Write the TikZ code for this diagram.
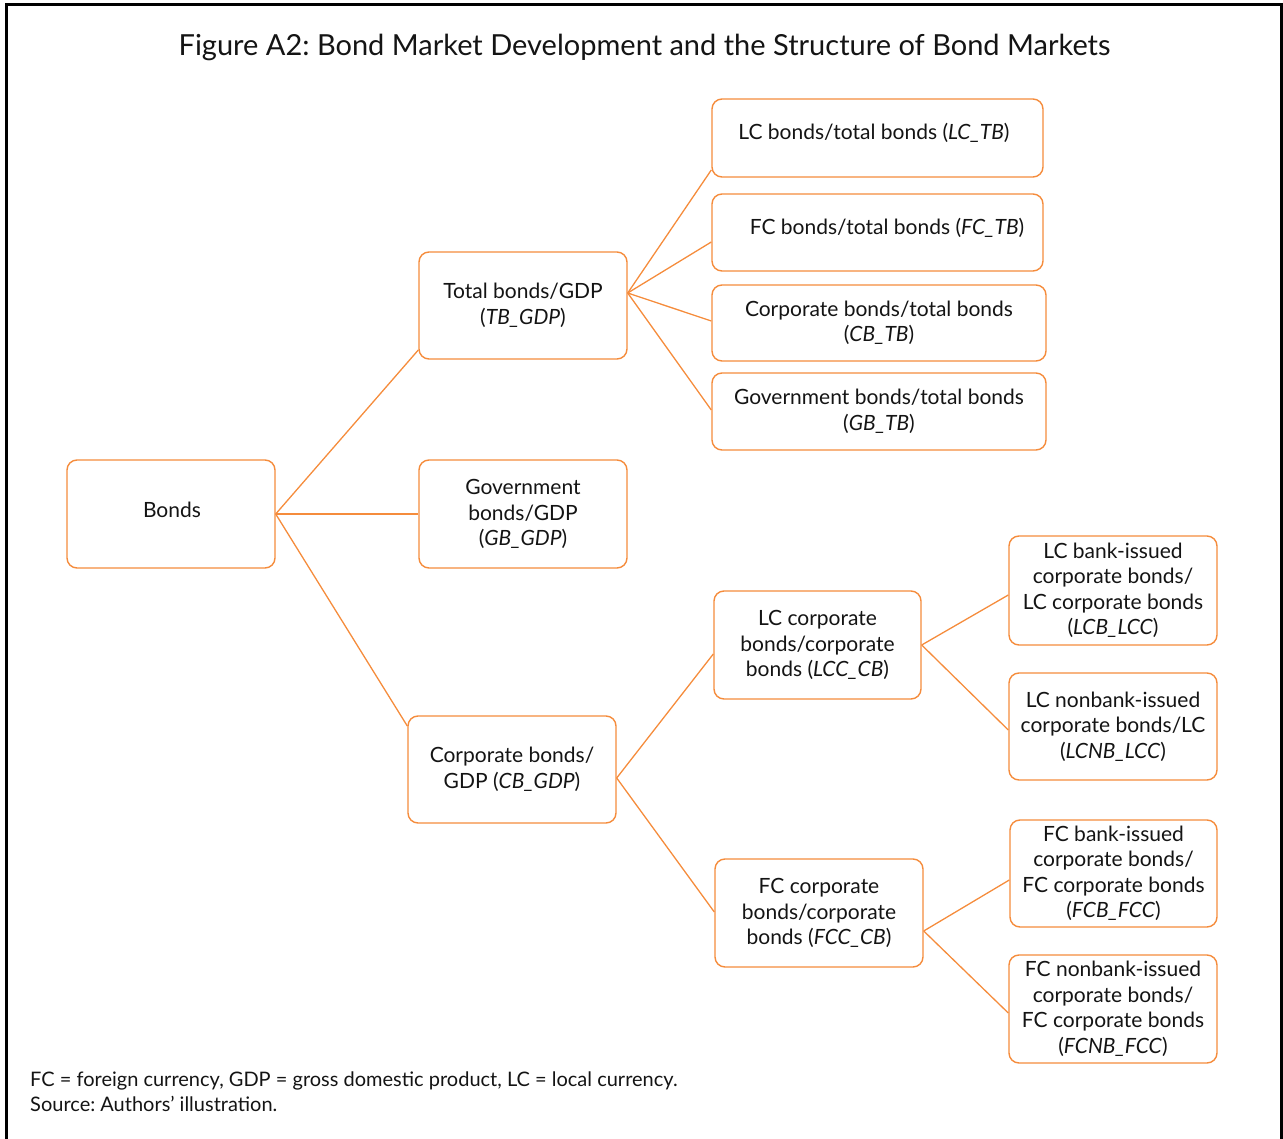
\documentclass[tikz,border=0pt]{standalone}
\usepackage{fontspec}
\setmainfont{Lato}
\frenchspacing
\definecolor{bondorange}{RGB}{245,140,60}
\definecolor{txt}{RGB}{20,20,20}
\begin{document}
\begin{tikzpicture}[x=1pt,y=-1pt,
  box/.style={draw=bondorange, line width=1.4pt, rounded corners=10pt, fill=white,
    inner sep=0pt, align=center, text=txt, font=\fontsize{21}{25.5}\selectfont},
  boxtext/.style={inner sep=0pt, text=txt, font=\fontsize{21}{25.5}\selectfont},
  link/.style={draw=bondorange, line width=1.3pt},
  note/.style={anchor=base west, inner sep=0pt, text=txt, font=\fontsize{20}{24}\selectfont}]
\useasboundingbox (0,0) rectangle (1283,1139);
\draw[line width=3pt] (6.5,1150) -- (6.5,4.5) -- (1281.5,4.5) -- (1281.5,1150);

\node[inner sep=0pt, text=txt, font=\fontsize{29}{34}\selectfont] (title) at (644.5,47)
  {Figure A2: Bond Market Development and the Structure of Bond Markets};

% level 0
\node[box, minimum width=208pt, minimum height=108pt] (bonds) at (171,514) {};
\node[boxtext] (bondst) at (172,510) {Bonds};
% level 1
\node[box, minimum width=208pt, minimum height=107pt] (tb) at (523,305.5)
  {Total bonds/GDP\\(\textit{TB\_GDP})};
\node[box, minimum width=208pt, minimum height=108pt] (gb) at (523,514)
  {Government\\bonds/GDP\\(\textit{GB\_GDP})};
\node[box, minimum width=208pt, minimum height=107pt] (cb) at (512,769.5)
  {Corporate bonds/\\GDP (\textit{CB\_GDP})};
% level 2 (total bonds)
\node[box, minimum width=331pt, minimum height=78pt] (lctb) at (877.5,138) {};
\node[boxtext] (lctbt) at (874,133) {LC bonds/total bonds (\textit{LC\_TB})};
\node[box, minimum width=331pt, minimum height=77pt] (fctb) at (877.5,232.5) {};
\node[boxtext] (fctbt) at (887,228) {FC bonds/total bonds (\textit{FC\_TB})};
\node[box, minimum width=334pt, minimum height=76pt] (cbtb) at (879,323)
  {Corporate bonds/total bonds\\(\textit{CB\_TB})};
\node[box, minimum width=334pt, minimum height=77pt] (gbtb) at (879,411.5)
  {Government bonds/total bonds\\(\textit{GB\_TB})};
% level 2 (corporate)
\node[box, minimum width=207pt, minimum height=108pt] (lcc) at (817.5,645)
  {LC corporate\\bonds/corporate\\bonds (\textit{LCC\_CB})};
\node[box, minimum width=208pt, minimum height=108pt] (fcc) at (819,913)
  {FC corporate\\bonds/corporate\\bonds (\textit{FCC\_CB})};
% level 3
\node[box, minimum width=208pt, minimum height=109pt] (lcb) at (1113,590.5)
  {LC bank-issued\\corporate bonds/\\LC corporate bonds\\(\textit{LCB\_LCC})};
\node[box, minimum width=208pt, minimum height=107pt] (lcnb) at (1113,726.5)
  {LC nonbank-issued\\corporate bonds/LC\\(\textit{LCNB\_LCC})};
\node[box, minimum width=207pt, minimum height=107pt] (fcb) at (1113.5,873.5)
  {FC bank-issued\\corporate bonds/\\FC corporate bonds\\(\textit{FCB\_FCC})};
\node[box, minimum width=208pt, minimum height=108pt] (fcnb) at (1113,1009)
  {FC nonbank-issued\\corporate bonds/\\FC corporate bonds\\(\textit{FCNB\_FCC})};

% connectors
\draw[link] (bonds.east) -- ([yshift=-44.5pt]tb.west);
\draw[link] (bonds.east) -- (gb.west);
\draw[link] (bonds.east) -- ([yshift=43.5pt]cb.west);

\draw[link] ([yshift=12.5pt]tb.east) -- ([yshift=-32pt]lctb.west);
\draw[link] ([yshift=12.5pt]tb.east) -- ([yshift=-9.5pt]fctb.west);
\draw[link] ([yshift=12.5pt]tb.east) -- ([yshift=2pt]cbtb.west);
\draw[link] ([yshift=12.5pt]tb.east) -- ([yshift=1.5pt]gbtb.west);

\draw[link] ([yshift=-8.5pt]cb.east) -- ([yshift=-9pt]lcc.west);
\draw[link] ([yshift=-8.5pt]cb.east) -- ([yshift=1pt]fcc.west);

\draw[link] (lcc.east) -- ([yshift=-4.5pt]lcb.west);
\draw[link] (lcc.east) -- ([yshift=-3.5pt]lcnb.west);
\draw[link] ([yshift=-18pt]fcc.east) -- ([yshift=-6.5pt]fcb.west);
\draw[link] ([yshift=-18pt]fcc.east) -- ([yshift=-4pt]fcnb.west);

% notes
\node[note] (n1) at (30,1086) {FC = foreign currency, GDP = gross domestic product, LC = local currency.};
\node[note] (n2) at (30,1111) {Source: Authors’ illustration.};
\end{tikzpicture}
\end{document}
